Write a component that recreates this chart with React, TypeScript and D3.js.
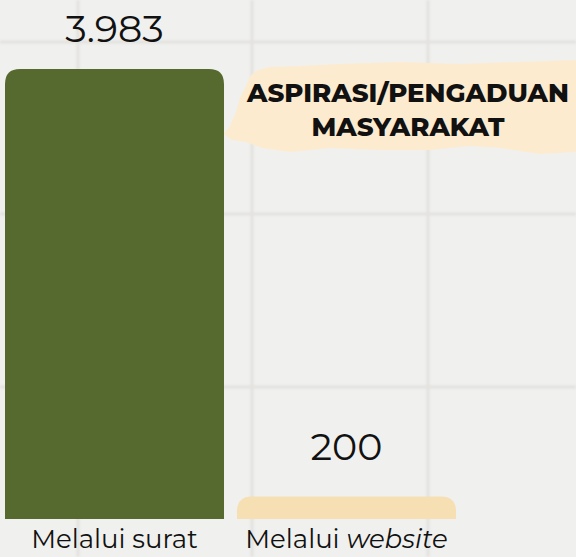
import React from "react";
import * as d3 from "d3";

// chart values
const categories = ["surat", "website"];
const values = [3983, 200];
const labelPlain = ["Melalui surat", "Melalui "];
const labelItalic = ["", "website"];
const barColors = ["#566a30", "#f6dfb3"];
const title = ["ASPIRASI/PENGADUAN", "MASYARAKAT"];

const W = 576;
const H = 557;
const FONT = "Montserrat, 'DejaVu Sans', sans-serif";

const idLocale = d3.formatLocale({
  decimal: ",",
  thousands: ".",
  grouping: [3],
  currency: ["Rp", ""],
});
const fmt = idLocale.format(",d");

// rounded-top bar
function topRounded(x: number, y: number, w: number, h: number, r: number) {
  const rr = Math.min(r, h, w / 2);
  return `M${x},${y + h}V${y + rr}Q${x},${y} ${x + rr},${y}H${x + w - rr}Q${x + w},${y} ${x + w},${y + rr}V${y + h}Z`;
}

export default function App() {
  const x = d3
    .scaleBand<string>()
    .domain(categories)
    .range([5, 456])
    .paddingInner(0.056);
  const y = d3.scaleLinear().domain([0, 3983]).range([519, 69]);

  const gridX = [78, 252, 428];
  const gridY = [42, 214, 387];

  // brush stroke behind title
  const brush =
    "M224,134 L230,126 L236,112 L240,98 L246,86 L250,76 L258,70 L270,67 L300,66 L340,64 L400,62 L460,64 L520,62 L576,60 L576,152 L540,154 L500,148 L470,146 L430,150 L380,150 L330,148 L290,152 L262,148 L246,142 L232,140 Z";

  return (
    <div style={{ position: "absolute", left: 0, top: 0, width: W, height: H }}>
      <svg width={W} height={H} style={{ display: "block" }}>
        <defs>
          <filter id="soft" x="-10%" y="-10%" width="120%" height="120%">
            <feGaussianBlur stdDeviation="1.2" />
          </filter>
        </defs>
        <rect width={W} height={H} fill="#f0f0ee" />
        <g filter="url(#soft)" stroke="#e3e2df" strokeWidth={3}>
          {gridX.map((gx) => (
            <line key={"gx" + gx} x1={gx} x2={gx} y1={0} y2={H} />
          ))}
          {gridY.map((gy) => (
            <line key={"gy" + gy} x1={0} x2={W} y1={gy} y2={gy} />
          ))}
        </g>

        <path d={brush} fill="#fdebd0" />
        <g
          fontFamily={FONT}
          fontWeight={800}
          fontSize={26}
          textAnchor="middle"
          fill="#111"
        >
          {title.map((t, i) => (
            <text key={t} x={408} y={102 + i * 34}>
              {t}
            </text>
          ))}
        </g>

        {categories.map((c, i) => {
          const bx = x(c) ?? 0;
          const by = y(values[i]);
          const bw = x.bandwidth();
          return (
            <g key={c}>
              <path
                d={topRounded(bx, by, bw, y(0) - by, 15)}
                fill={barColors[i]}
              />
              <text
                x={bx + bw / 2}
                y={by - (i === 0 ? 27 : 36)}
                textAnchor="middle"
                fontFamily={FONT}
                fontSize={38}
                fill="#111"
              >
                {fmt(values[i])}
              </text>
              <text
                x={bx + bw / 2}
                y={548}
                textAnchor="middle"
                fontFamily={FONT}
                fontSize={26}
                fill="#111"
              >
                {labelPlain[i]}
                {labelItalic[i] && (
                  <tspan fontStyle="italic">{labelItalic[i]}</tspan>
                )}
              </text>
            </g>
          );
        })}
      </svg>
    </div>
  );
}
